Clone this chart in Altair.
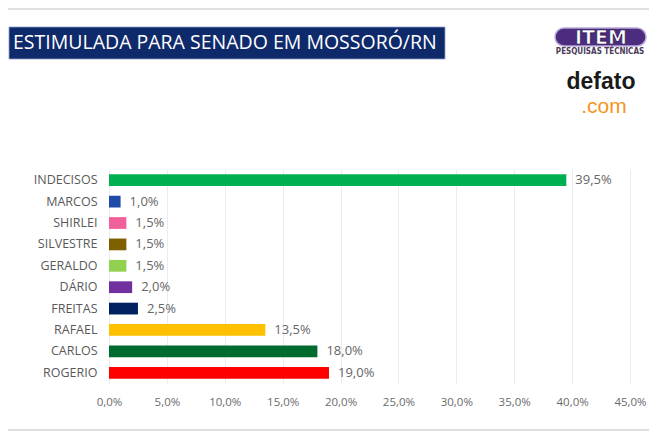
import altair as alt
import pandas as pd

candidates = ["INDECISOS", "MARCOS", "SHIRLEI", "SILVESTRE", "GERALDO",
              "DÁRIO", "FREITAS", "RAFAEL", "CARLOS", "ROGERIO"]
values = [39.5, 1.0, 1.5, 1.5, 1.5, 2.0, 2.5, 13.5, 18.0, 19.0]
colors = ["#00B050", "#1F4AA8", "#F0609A", "#7F6000", "#92D050",
          "#7030A0", "#002060", "#FFC000", "#006B2E", "#FF0000"]
x_ticks = [0, 5, 10, 15, 20, 25, 30, 35, 40, 45]
title_text = "ESTIMULADA PARA SENADO EM MOSSORÓ/RN"

df = pd.DataFrame({
    "cand": candidates,
    "val": values,
    "color": colors,
    "label": [f"{v:.1f}".replace(".", ",") + "%" for v in values],
})

FONT = "Open Sans"
W, H = 521, 215

x = alt.X("val:Q", scale=alt.Scale(domain=[0, 45], nice=False),
          axis=alt.Axis(values=x_ticks, title=None, grid=True, gridColor="#ececec",
                        domain=False, ticks=False, labelPadding=12, labelFlush=False,
                        labelOverlap=False, labelBound=False,
                        labelColor="#6b6b6b", labelFontSize=11.5, labelFont=FONT,
                        labelExpr="replace(format(datum.value, '.1f'), '.', ',') + '%'"))
y = alt.Y("cand:N", sort=candidates,
          scale=alt.Scale(paddingInner=0.45, paddingOuter=0.25),
          axis=alt.Axis(title=None, domain=False, ticks=False, labelPadding=12,
                        labelColor="#595959", labelFontSize=12.5, labelFont=FONT))

base = alt.Chart(df)
bars = base.mark_bar().encode(x=x, y=y, color=alt.Color("color:N", scale=None))
labels = base.mark_text(align="left", dx=9, fontSize=13, font=FONT, color="#666666").encode(
    x="val:Q", y=alt.Y("cand:N", sort=candidates), text="label:N")

one = pd.DataFrame({"a": [0]})
deco = alt.Chart(one)
title_box = deco.mark_rect(color="#0E2A6B", stroke="#8fa0c8", strokeWidth=0.8).encode(
    x=alt.value(-100), x2=alt.value(336), y=alt.value(-142), y2=alt.value(-110))
title = deco.mark_text(text=title_text, align="left", baseline="middle", color="white",
                       fontSize=19.5, font=FONT).encode(x=alt.value(-96), y=alt.value(-126))
top_line = deco.mark_rule(color="#d6d6d6", strokeWidth=1.5).encode(
    x=alt.value(-101), x2=alt.value(540), y=alt.value(-160))
bot_line = deco.mark_rule(color="#d6d6d6", strokeWidth=1.5).encode(
    x=alt.value(-101), x2=alt.value(540), y=alt.value(261))
item_pill = deco.mark_rect(color="#4B2C7F", stroke="#b9a9d8", strokeWidth=1.5,
                           cornerRadius=9).encode(
    x=alt.value(446), x2=alt.value(537), y=alt.value(-141), y2=alt.value(-123))
item_txt = deco.mark_text(text="ITEM", fontSize=19, fontWeight="bold", font="DejaVu Sans",
                          color="white", stroke="#2a1050", strokeWidth=0.7,
                          baseline="middle").encode(x=alt.value(492), y=alt.value(-131))
item_sub = deco.mark_text(text="PESQUISAS TÉCNICAS", fontSize=8, fontWeight="bold",
                          font="DejaVu Sans Condensed", color="#4a3a5a",
                          baseline="middle").encode(x=alt.value(491), y=alt.value(-117))
defato = deco.mark_text(text="defato", fontSize=23, fontWeight="bold", font="Liberation Sans",
                        color="#1a1a1a", baseline="middle").encode(
    x=alt.value(492), y=alt.value(-87))
dotcom = deco.mark_text(text=".com", fontSize=21, font="Liberation Sans", color="#F7941D",
                        baseline="middle").encode(x=alt.value(495), y=alt.value(-62))

chart = alt.layer(bars, labels, title_box, title, top_line, bot_line,
                  item_pill, item_txt, item_sub, defato, dotcom).properties(
    width=W, height=H,
    autosize=alt.AutoSizeParams(type="none"),
    padding={"left": 101, "top": 161, "right": 19, "bottom": 51},
    background="white",
).configure_view(stroke=None)

chart.save("out.html", embed_options={"renderer": "svg", "actions": False})
